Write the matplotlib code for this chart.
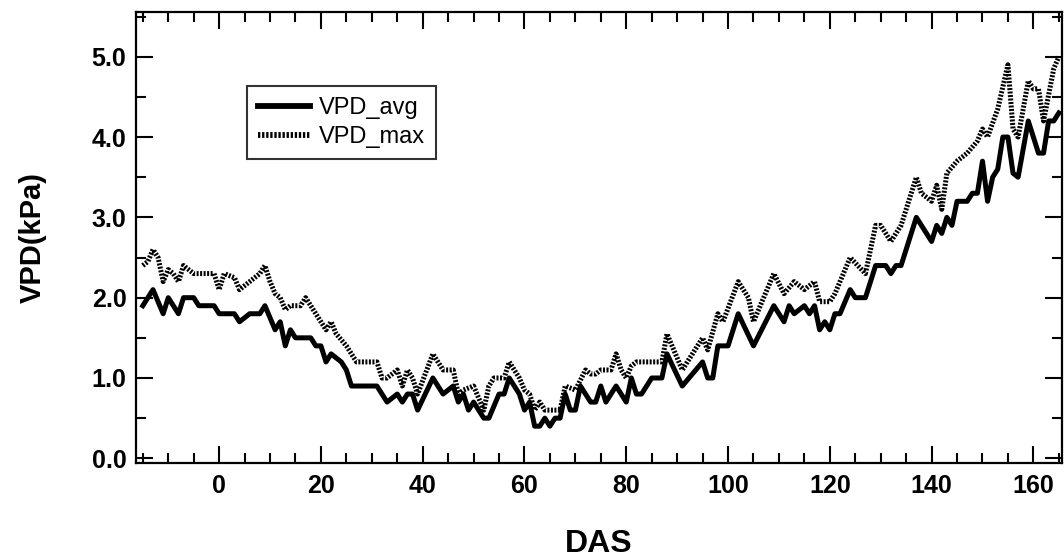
import matplotlib
matplotlib.use('Agg')
import matplotlib.pyplot as plt
from matplotlib.ticker import MultipleLocator, FormatStrFormatter

# ==================== 数据 ====================
# VPD_avg 折线顶点 (DAS, kPa)
das_avg = [-15, -13, -11, -10, -8, -7, -5, -4, -1, 0, 3, 4, 6, 8, 9, 11, 12, 13, 14, 15,
           18, 19, 20, 21, 22, 24, 25, 26, 31, 33, 35, 36, 37, 38, 39, 42, 44, 46, 47, 48,
           49, 50, 52, 53, 55, 56, 57, 59, 60, 61, 62, 63, 64, 65, 66, 67, 68, 69, 70, 71,
           73, 74, 75, 76, 78, 80, 81, 82, 83, 85, 87, 88, 91, 95, 96, 97, 98, 100, 102, 105,
           107, 109, 111, 112, 113, 115, 116, 117, 118, 119, 120, 121, 122, 124, 125, 127, 129, 131, 132, 133,
           134, 137, 140, 141, 142, 143, 144, 145, 147, 148, 149, 150, 151, 152, 153, 154, 155, 156, 157, 159,
           161, 162, 163, 164, 165]
vpd_avg = [1.9, 2.1, 1.8, 2.0, 1.8, 2.0, 2.0, 1.9, 1.9, 1.8, 1.8, 1.7, 1.8, 1.8, 1.9, 1.6, 1.7, 1.4, 1.6, 1.5,
           1.5, 1.4, 1.4, 1.2, 1.3, 1.2, 1.1, 0.9, 0.9, 0.7, 0.8, 0.7, 0.8, 0.8, 0.6, 1.0, 0.8, 0.9, 0.7, 0.8,
           0.6, 0.7, 0.5, 0.5, 0.8, 0.8, 1.0, 0.8, 0.6, 0.7, 0.4, 0.4, 0.5, 0.4, 0.5, 0.5, 0.8, 0.6, 0.6, 0.9,
           0.7, 0.7, 0.9, 0.7, 0.9, 0.7, 1.0, 0.8, 0.8, 1.0, 1.0, 1.3, 0.9, 1.2, 1.0, 1.0, 1.4, 1.4, 1.8, 1.4,
           1.65, 1.9, 1.7, 1.9, 1.8, 1.9, 1.8, 1.9, 1.6, 1.7, 1.6, 1.8, 1.8, 2.1, 2.0, 2.0, 2.4, 2.4, 2.3, 2.4,
           2.4, 3.0, 2.7, 2.9, 2.8, 3.0, 2.9, 3.2, 3.2, 3.3, 3.3, 3.7, 3.2, 3.5, 3.6, 4.0, 4.0, 3.55, 3.5, 4.2,
           3.8, 3.8, 4.2, 4.2, 4.3]

# VPD_max 折线顶点 (DAS, kPa)
das_max = [-15, -14, -13, -12, -11, -10, -9, -8, -7, -5, -1, 0, 1, 3, 4, 6, 8, 9, 10, 11,
           12, 13, 14, 16, 17, 19, 21, 22, 23, 25, 27, 31, 32, 33, 35, 36, 37, 38, 39, 42,
           44, 46, 47, 48, 50, 52, 53, 54, 56, 57, 59, 60, 61, 62, 63, 64, 67, 68, 70, 72,
           73, 74, 75, 77, 78, 79, 80, 81, 82, 87, 88, 91, 93, 95, 96, 98, 99, 102, 104, 105,
           107, 109, 111, 113, 115, 117, 118, 120, 121, 124, 127, 129, 130, 132, 134, 137, 138, 140, 141, 142,
           143, 145, 147, 149, 150, 151, 153, 155, 156, 157, 159, 160, 161, 162, 164, 165]
vpd_max = [2.4, 2.45, 2.6, 2.5, 2.2, 2.35, 2.3, 2.2, 2.4, 2.3, 2.3, 2.1, 2.3, 2.25, 2.1, 2.2, 2.3, 2.4, 2.2, 2.05,
           2.0, 1.85, 1.9, 1.9, 2.0, 1.8, 1.6, 1.7, 1.55, 1.4, 1.2, 1.2, 1.0, 1.0, 1.1, 0.9, 1.1, 1.0, 0.8, 1.3,
           1.1, 1.1, 0.8, 0.85, 0.9, 0.6, 0.9, 1.0, 1.0, 1.2, 1.0, 0.85, 0.8, 0.6, 0.7, 0.6, 0.6, 0.9, 0.85, 1.1,
           1.05, 1.05, 1.1, 1.1, 1.3, 1.1, 1.0, 1.15, 1.2, 1.2, 1.55, 1.1, 1.3, 1.5, 1.35, 1.8, 1.7, 2.2, 2.0, 1.7,
           2.0, 2.3, 2.05, 2.2, 2.1, 2.2, 1.95, 1.95, 2.05, 2.5, 2.3, 2.9, 2.9, 2.7, 2.9, 3.5, 3.3, 3.2, 3.4, 3.1,
           3.55, 3.7, 3.8, 3.95, 4.1, 4.0, 4.35, 4.9, 4.1, 4.0, 4.7, 4.6, 4.6, 4.2, 4.85, 5.0]

# ==================== 绘图 ====================
plt.rcParams['font.family'] = ['Liberation Sans', 'DejaVu Sans']

fig = plt.figure(figsize=(10.64, 5.6), dpi=100)
ax = fig.add_axes([0.128, 0.173, 0.870, 0.806])

ax.plot(das_avg, vpd_avg, color='black', linewidth=3.6, label='VPD_avg')
ax.plot(das_max, vpd_max, color='black', linewidth=3.6, linestyle=(0, (0.4, 0.3)),
        label='VPD_max')

ax.set_xlim(-16.3, 165.6)
ax.set_ylim(-0.06, 5.56)

ax.xaxis.set_major_locator(MultipleLocator(20))
ax.xaxis.set_minor_locator(MultipleLocator(5))
ax.yaxis.set_major_locator(MultipleLocator(1.0))
ax.yaxis.set_minor_locator(MultipleLocator(0.5))
ax.yaxis.set_major_formatter(FormatStrFormatter('%.1f'))

ax.tick_params(which='both', direction='in', top=True, right=True, width=1.5)
ax.tick_params(which='major', length=12, labelsize=18)
ax.tick_params(axis='x', which='major', pad=8)
ax.tick_params(axis='y', which='major', pad=7)
ax.tick_params(which='minor', length=7)
for lab in ax.get_xticklabels() + ax.get_yticklabels():
    lab.set_fontweight('bold')
for sp in ax.spines.values():
    sp.set_linewidth(1.6)

ax.set_xlabel('DAS', fontsize=23, fontweight='bold', labelpad=22)
ax.set_ylabel('VPD(kPa)', fontsize=21, fontweight='bold', labelpad=32)

leg = ax.legend(loc='upper left', bbox_to_anchor=(0.12, 0.835), fontsize=17,
                frameon=True, fancybox=False, edgecolor='black', handlelength=2.2,
                labelspacing=0.3, borderpad=0.45, handletextpad=0.4, borderaxespad=0)
leg.get_frame().set_linewidth(1.5)
for line in leg.get_lines():
    line.set_linewidth(4.2)

fig.savefig('out.png', dpi=100)
plt.close(fig)
